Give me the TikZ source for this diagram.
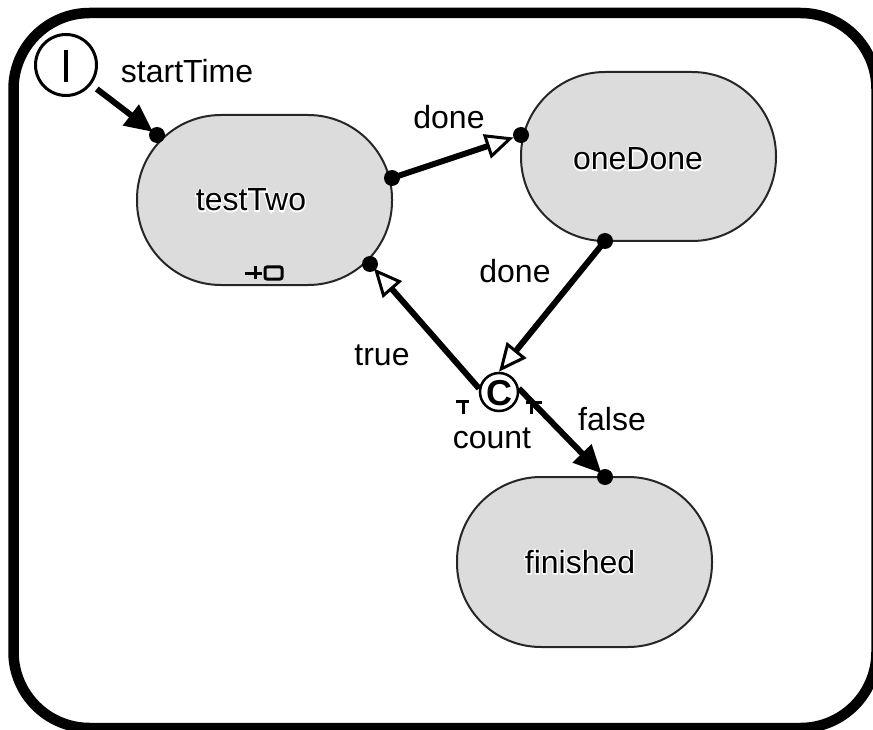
\documentclass[tikz,border=0pt]{standalone}
\usepackage{fontspec}
\setmainfont{Liberation Sans}
\newfontfamily\halofont{Liberation Sans}[FakeBold=8]
\usetikzlibrary{arrows.meta}
\definecolor{stategray}{HTML}{DCDCDC}
\newcommand{\halotext}[1]{\leavevmode\rlap{\color{white}\halofont #1}#1}
\tikzset{
  x=1pt,y=-1pt,
  frame/.style={draw=black,line width=10.5pt,rounded corners=76pt},
  statebox/.style={draw=black!85,fill=stategray,line width=2pt,rounded corners=84pt},
  statelabel/.style={font=\fontsize{32}{36}\selectfont,inner sep=0pt},
  edgelabel/.style={font=\fontsize{32}{36}\selectfont,inner sep=0pt,text=black},
  portdot/.style={circle,fill=black,inner sep=0pt,minimum size=16pt},
  pseudo/.style={circle,draw=black,fill=white,inner sep=0pt,line width=3pt},
  trans/.style={draw=black,line width=6pt},
  solidhead/.style={-{Triangle[length=28pt,width=25pt]}},
  openhead/.style={-{Triangle[open,fill=white,length=28pt,width=25pt,line width=3pt]}},
  glyphline/.style={draw=black,line width=3pt},
}
\begin{document}
\begin{tikzpicture}
\useasboundingbox (0,0) rectangle (873,730);
\draw[frame] (13.5,13) rectangle (876.5,728);

\draw[statebox] (137,115) rectangle (392,285);
\draw[statebox] (521,72) rectangle (776,241);
\draw[statebox] (457,477) rectangle (712,647);
\node[statelabel] (testTwo) at (251,200) {\halotext{testTwo}};
\node[statelabel] (oneDone) at (638,159) {\halotext{oneDone}};
\node[statelabel] (finished) at (580,562) {\halotext{finished}};

\draw[glyphline] (245,273) -- (262,273);
\draw[glyphline] (255,266) -- (255,279);
\draw[glyphline,rounded corners=2pt] (265,267) rectangle (282,279);

\node[pseudo,minimum size=61pt] (init) at (66,65) {};
\draw[line width=4pt] (66,50) -- (66,82);
\node[pseudo,minimum size=38pt,line width=2.5pt] (cond) at (499,392) {\raisebox{-13pt}[0pt][0pt]{\makebox[0pt]{\fontsize{36}{36}\selectfont\bfseries C}}};

\node[portdot] (p1) at (157,135) {};
\node[portdot] (p2) at (392,178) {};
\node[portdot] (p3) at (521,135) {};
\node[portdot] (p4) at (605,241) {};
\node[portdot] (p5) at (370,264) {};
\node[portdot] (p6) at (605,477) {};

\draw[trans,solidhead,shorten <=7pt,shorten >=5pt] (init.-38) -- (p1.center);
\draw[trans,openhead,shorten >=8pt] (p2.center) -- (p3.center);
\draw[trans,openhead] (p4.center) -- (cond.north);
\draw[trans,openhead,shorten >=6pt] (cond.170) -- (p5.center);
\draw[trans,solidhead,shorten >=5pt] (cond.10) -- (p6.center);

\draw[glyphline] (456,401) -- (469,401) (463,401) -- (463,414);
\draw[glyphline] (526,402) -- (542,402) (531,402) -- (531,414);

\node[edgelabel] (l1) at (187,71) {startTime};
\node[edgelabel] (l2) at (449,117) {done};
\node[edgelabel] (l3) at (515,271) {done};
\node[edgelabel] (l4) at (382,355) {true};
\node[edgelabel] (l5) at (612,419) {false};
\node[edgelabel] (l6) at (492,438) {count};
\end{tikzpicture}
\end{document}
